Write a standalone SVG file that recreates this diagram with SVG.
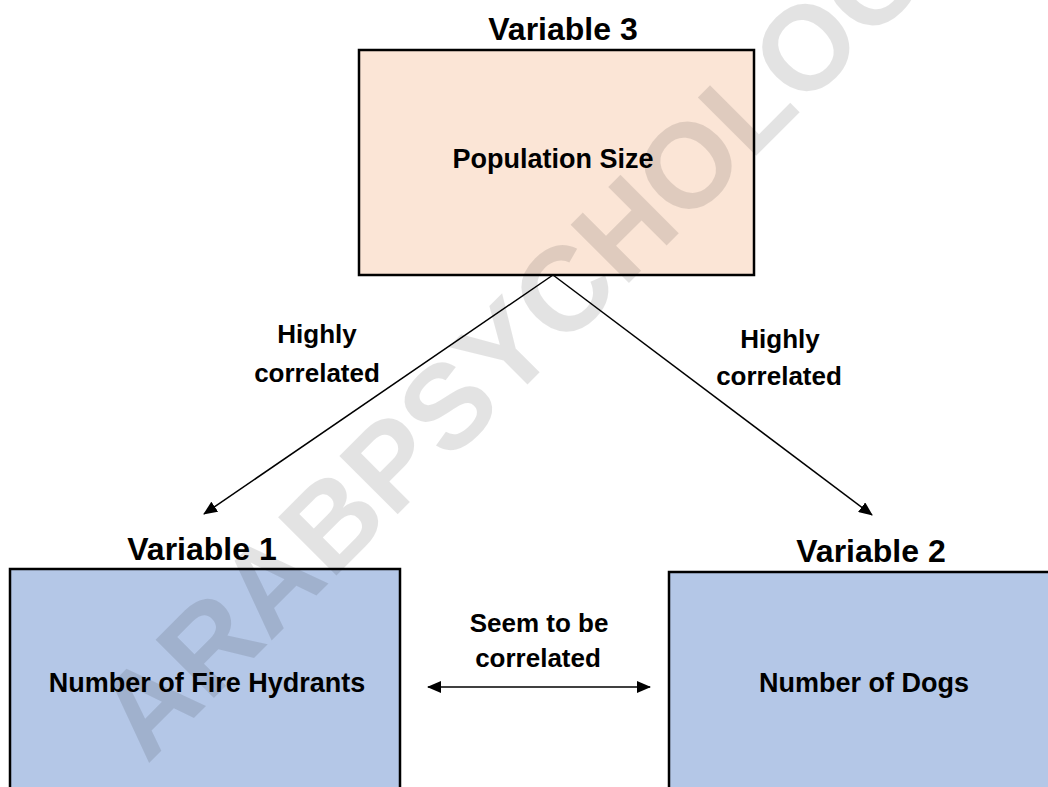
<svg xmlns="http://www.w3.org/2000/svg" width="1048" height="787" viewBox="0 0 1048 787">
  <style>
    .t { font-family: "Liberation Sans", Arial, sans-serif; font-weight: bold; fill: #000; text-anchor: middle; }
    .var { font-size: 32px; }
    .box { font-size: 27px; }
    .lbl { font-size: 26px; }
    .peach { fill: #FBE5D6; stroke: #000; stroke-width: 2.5; }
    .blue { fill: #B4C7E7; stroke: #000; stroke-width: 2.5; }
    .conn { stroke: #000; stroke-width: 1.5; fill: none; }
    .wm { font-family: "Liberation Sans", Arial, sans-serif; font-weight: bold; font-size: 120px; fill: #000; fill-opacity: 0.11; }
  </style>
  <defs>
    <marker id="ah" viewBox="0 0 14 12" refX="13" refY="6" markerWidth="14" markerHeight="12" markerUnits="userSpaceOnUse" orient="auto-start-reverse">
      <path d="M0,0 L14,6 L0,12 Z" fill="#000"/>
    </marker>
  </defs>
  <rect x="0" y="0" width="1048" height="787" fill="#fff"/>

  <g id="node-var3">
    <rect class="peach" x="359" y="50" width="395" height="225"/>
    <text class="t var" x="563" y="40">Variable 3</text>
    <text class="t box" x="553" y="168">Population Size</text>
  </g>

  <g id="node-var1">
    <rect class="blue" x="10" y="569" width="390" height="240"/>
    <text class="t var" x="202" y="560">Variable 1</text>
    <text class="t box" x="207" y="692">Number of Fire Hydrants</text>
  </g>

  <g id="node-var2">
    <rect class="blue" x="669" y="572" width="400" height="240"/>
    <text class="t var" x="871" y="562">Variable 2</text>
    <text class="t box" x="864" y="692">Number of Dogs</text>
  </g>

  <g id="connectors">
    <line class="conn" x1="553" y1="275" x2="204" y2="514" marker-end="url(#ah)"/>
    <line class="conn" x1="553" y1="275" x2="872" y2="515" marker-end="url(#ah)"/>
    <line class="conn" x1="428" y1="687" x2="650" y2="687" marker-start="url(#ah)" marker-end="url(#ah)"/>
    <text class="t lbl" x="317" y="343">Highly</text>
    <text class="t lbl" x="317" y="382">correlated</text>
    <text class="t lbl" x="780" y="348">Highly</text>
    <text class="t lbl" x="779" y="385">correlated</text>
    <text class="t lbl" x="539" y="632">Seem to be</text>
    <text class="t lbl" x="538" y="667">correlated</text>
  </g>

  <text class="wm" x="147" y="765" transform="rotate(-45 147 765)">ARABPSYCHOLOGY</text>
</svg>
